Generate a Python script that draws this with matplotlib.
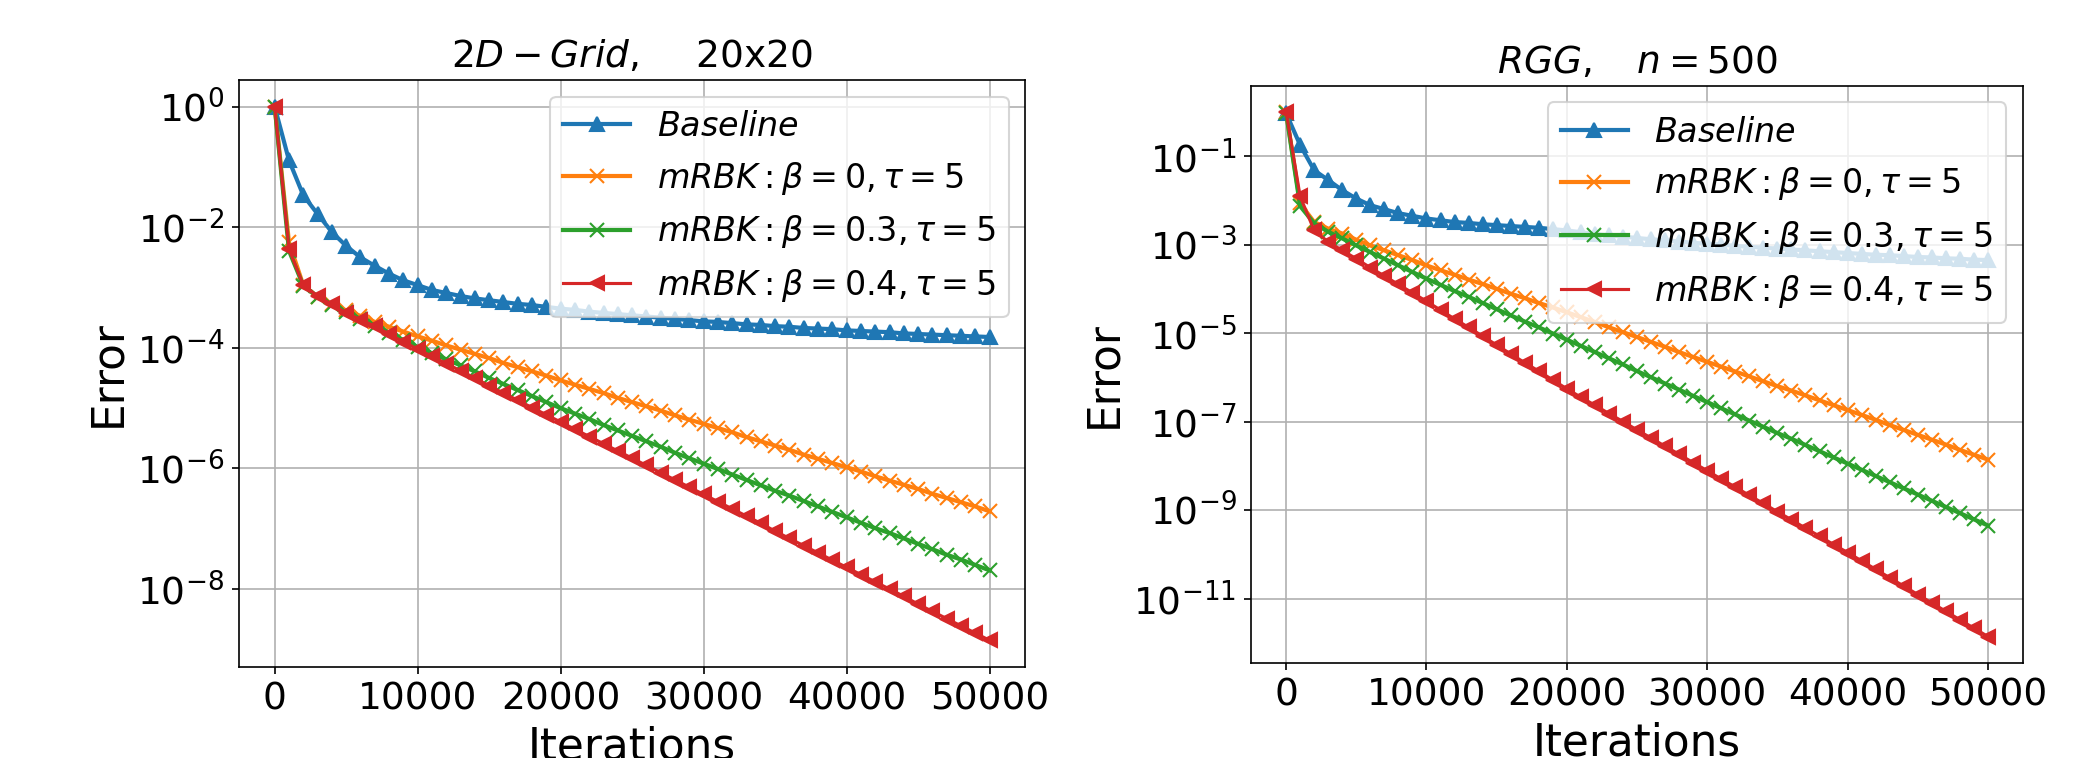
import numpy as np
import matplotlib
matplotlib.use('Agg')
import matplotlib.pyplot as plt
from matplotlib.ticker import NullLocator

# iterations (one point every 1000)
iters = np.arange(0, 50001, 1000)

# log10(error), 2D grid 20x20
grid_base = [0, -0.89, -1.47, -1.78, -2.08, -2.31, -2.50, -2.64, -2.77, -2.88,
             -2.96, -3.04, -3.09, -3.14, -3.18, -3.21, -3.24, -3.27, -3.29, -3.32,
             -3.35, -3.37, -3.40, -3.42, -3.44, -3.46, -3.48, -3.50, -3.52, -3.54,
             -3.56, -3.57, -3.59, -3.61, -3.62, -3.64, -3.65, -3.67, -3.68, -3.69,
             -3.71, -3.72, -3.73, -3.74, -3.76, -3.77, -3.78, -3.79, -3.80, -3.81,
             -3.82]
grid_b0 = [0, -2.25, -2.96, -3.16, -3.28, -3.38, -3.47, -3.57, -3.65, -3.73,
           -3.81, -3.88, -3.96, -4.03, -4.10, -4.17, -4.25, -4.32, -4.39, -4.46,
           -4.54, -4.61, -4.68, -4.75, -4.83, -4.90, -4.97, -5.04, -5.12, -5.19,
           -5.26, -5.33, -5.40, -5.48, -5.55, -5.62, -5.69, -5.77, -5.84, -5.91,
           -5.98, -6.05, -6.13, -6.20, -6.27, -6.34, -6.42, -6.49, -6.56, -6.63,
           -6.71]
grid_b03 = [0, -2.39, -2.97, -3.15, -3.29, -3.41, -3.52, -3.63, -3.75, -3.87,
            -3.99, -4.09, -4.19, -4.29, -4.39, -4.50, -4.60, -4.70, -4.80, -4.90,
            -5.00, -5.09, -5.18, -5.28, -5.37, -5.46, -5.55, -5.64, -5.74, -5.83,
            -5.92, -6.01, -6.10, -6.19, -6.28, -6.37, -6.45, -6.54, -6.63, -6.72,
            -6.81, -6.90, -6.99, -7.07, -7.16, -7.25, -7.34, -7.43, -7.51, -7.60,
            -7.69]
grid_b04 = [0, -2.36, -2.96, -3.14, -3.28, -3.42, -3.53, -3.64, -3.77, -3.90,
            -4.02, -4.14, -4.26, -4.38, -4.50, -4.63, -4.75, -4.87, -4.99, -5.11,
            -5.23, -5.35, -5.47, -5.59, -5.71, -5.83, -5.95, -6.07, -6.19, -6.31,
            -6.43, -6.55, -6.67, -6.79, -6.91, -7.04, -7.16, -7.28, -7.40, -7.52,
            -7.64, -7.76, -7.88, -8.00, -8.12, -8.25, -8.37, -8.49, -8.61, -8.73,
            -8.85]

# log10(error), RGG n=500
rgg_base = [-0.03, -0.75, -1.32, -1.54, -1.77, -1.96, -2.11, -2.20, -2.29, -2.35,
            -2.41, -2.45, -2.49, -2.51, -2.54, -2.56, -2.58, -2.60, -2.62, -2.65,
            -2.68, -2.72, -2.76, -2.79, -2.82, -2.85, -2.88, -2.90, -2.93, -2.96,
            -2.98, -3.00, -3.03, -3.05, -3.07, -3.09, -3.11, -3.13, -3.15, -3.17,
            -3.19, -3.21, -3.23, -3.24, -3.26, -3.28, -3.29, -3.31, -3.32, -3.34,
            -3.35]
rgg_b0 = [0, -2.07, -2.49, -2.64, -2.75, -2.89, -3.02, -3.13, -3.24, -3.35,
          -3.47, -3.58, -3.68, -3.79, -3.89, -4.00, -4.11, -4.21, -4.32, -4.42,
          -4.53, -4.64, -4.75, -4.87, -4.98, -5.09, -5.20, -5.31, -5.43, -5.54,
          -5.65, -5.76, -5.87, -5.98, -6.09, -6.20, -6.30, -6.41, -6.52, -6.63,
          -6.74, -6.85, -6.96, -7.08, -7.19, -7.30, -7.41, -7.52, -7.64, -7.75,
          -7.86]
rgg_b03 = [-0.02, -2.13, -2.52, -2.71, -2.86, -3.02, -3.17, -3.32, -3.47, -3.62,
           -3.77, -3.91, -4.05, -4.18, -4.32, -4.46, -4.60, -4.74, -4.87, -5.01,
           -5.15, -5.29, -5.43, -5.57, -5.71, -5.86, -6.00, -6.14, -6.28, -6.42,
           -6.56, -6.70, -6.84, -6.98, -7.12, -7.26, -7.39, -7.53, -7.67, -7.81,
           -7.95, -8.09, -8.23, -8.37, -8.51, -8.65, -8.79, -8.93, -9.07, -9.21,
           -9.35]
rgg_b04 = [0, -1.91, -2.68, -2.94, -3.13, -3.32, -3.52, -3.71, -3.90, -4.09,
           -4.28, -4.48, -4.68, -4.87, -5.07, -5.27, -5.47, -5.67, -5.86, -6.06,
           -6.26, -6.45, -6.63, -6.82, -7.00, -7.19, -7.37, -7.56, -7.74, -7.93,
           -8.11, -8.30, -8.48, -8.67, -8.85, -9.04, -9.22, -9.41, -9.59, -9.78,
           -9.96, -10.15, -10.34, -10.53, -10.72, -10.91, -11.10, -11.29, -11.48, -11.67,
           -11.86]

labels = [r'$Baseline$', r'$mRBK: \beta=0, \tau=5$',
          r'$mRBK: \beta=0.3, \tau=5$', r'$mRBK: \beta=0.4, \tau=5$']
titles = [r'$2D-Grid,$    20x20', r'$RGG, \quad n=500$']
grid_yticks = [1e0, 1e-2, 1e-4, 1e-6, 1e-8]
rgg_yticks = [1e-1, 1e-3, 1e-5, 1e-7, 1e-9, 1e-11]

fig = plt.figure(figsize=(13.9, 758/150), dpi=150)
ax1 = fig.add_axes([0.1146, 0.120, 0.3772, 0.7745])
ax2 = fig.add_axes([0.600, 0.1256, 0.3703, 0.7614])

panels = [(ax1, [grid_base, grid_b0, grid_b03, grid_b04], titles[0], grid_yticks),
          (ax2, [rgg_base, rgg_b0, rgg_b03, rgg_b04], titles[1], rgg_yticks)]

for ax, series, title, yt in panels:
    ax.semilogy(iters, 10**np.array(series[0]), '-^', color='C0', lw=2, ms=6.5, label=labels[0])
    ax.semilogy(iters, 10**np.array(series[1]), '-x', color='C1', lw=2, ms=6.5, label=labels[1])
    ax.semilogy(iters, 10**np.array(series[2]), '-x', color='C2', lw=2, ms=6.5, label=labels[2])
    ax.semilogy(iters, 10**np.array(series[3]), '-<', color='C3', lw=1.5, ms=6.5, label=labels[3])
    ax.set_yticks(yt)
    ax.yaxis.set_minor_locator(NullLocator())
    ax.set_xticks([0, 10000, 20000, 30000, 40000, 50000])
    ax.tick_params(labelsize=18)
    ax.set_xlabel('Iterations', fontsize=21)
    ax.set_ylabel('Error', fontsize=21)
    ax.set_title(title, fontsize=18)
    ax.grid()
    ax.legend(fontsize=16, loc='upper right')

fig.savefig('out.png', dpi=150)
